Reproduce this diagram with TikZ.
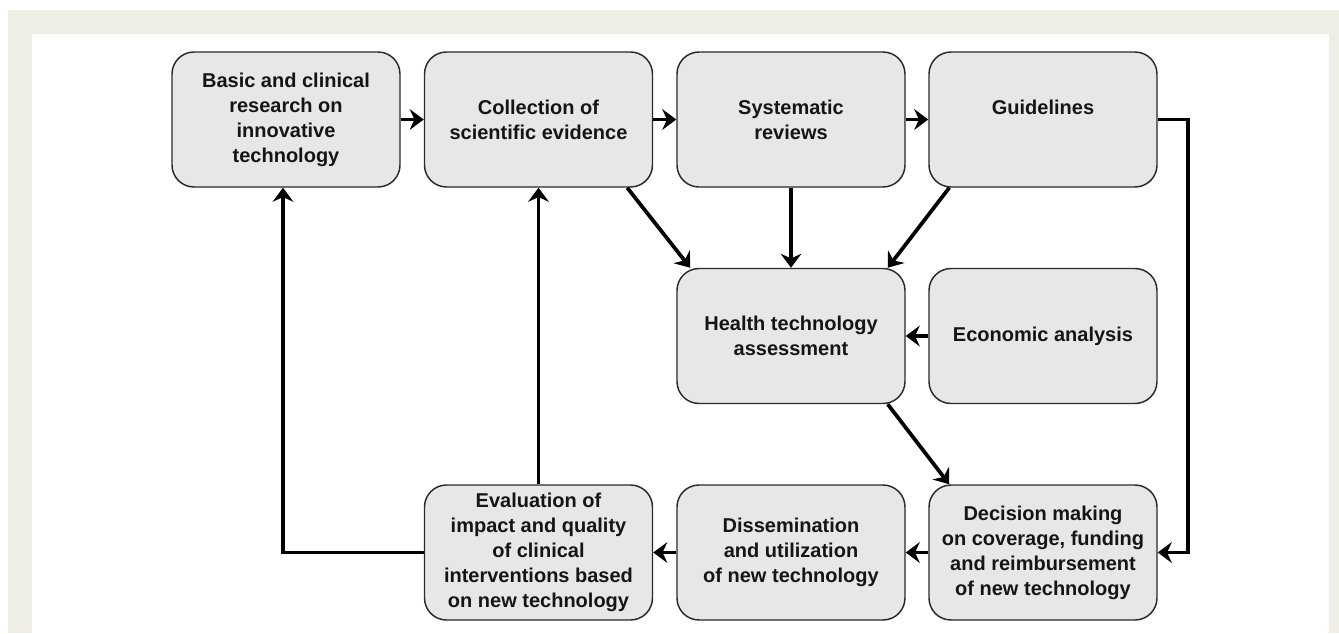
\documentclass[tikz,border=0pt]{standalone}
\usepackage{fontspec}
\setmainfont{Liberation Sans}
\usetikzlibrary{arrows.meta,calc}
\definecolor{beige}{HTML}{EFEEE4}
\definecolor{boxfill}{HTML}{E7E7E7}
\definecolor{boxline}{HTML}{2A2A2A}
\definecolor{txt}{HTML}{151515}
\begin{document}
\begin{tikzpicture}[x=0.75pt,y=-0.75pt,
  box/.style={draw=boxline, line width=1.1pt, fill=boxfill, rounded corners=16.5pt,
    minimum width=171pt, minimum height=101.25pt, inner sep=0pt, align=center,
    text=txt, font=\fontsize{15}{18.75}\selectfont\bfseries},
  arr/.style={line width=2.8pt, draw=black, -{Stealth[length=10.5pt,width=15.5pt,inset=3.5pt]}},
  ln/.style={line width=2.8pt, draw=black}]
\useasboundingbox (0,0) rectangle (1339,633);
\fill[white] (0,0) rectangle (1339,633);
\fill[beige] (8,10) rectangle (1339,633);
\fill[white] (32,34) rectangle (1329,633);
% top row
\node[box] (b1) at (286,119.5) {Basic and clinical\\research on\\innovative\\technology};
\node[box] (b2) at (538.5,119.5) {Collection of\\scientific evidence};
\node[box] (b3) at (791,119.5) {Systematic\\reviews};
\node[box] (b4) at (1043,119.5) {Guidelines\\\mbox{}};
% middle row
\node[box] (hta) at (791,336) {Health technology\\assessment};
\node[box] (eco) at (1043,336) {Economic analysis};
% bottom row
\node[box] (eval) at (538.5,552.5) {Evaluation of\\impact and quality\\of clinical\\interventions based\\on new technology};
\node[box] (dis) at (791,552.5) {Dissemination\\and utilization\\of new technology};
\node[box] (dec) at (1043,552.5) {Decision making\\on coverage, funding\\and reimbursement\\of new technology};
% arrows
\draw[arr] (b1.east) -- (b2.west);
\draw[arr] (b2.east) -- (b3.west);
\draw[arr] (b3.east) -- (b4.west);
\coordinate (gr) at (1188,119.5);
\draw[arr] (b4.east) -- (gr) |- (dec.east);
\draw[arr] ($(b2.south east)+(-26,0)$) -- ($(hta.north west)+(14,0)$);
\draw[arr] (b3.south) -- (hta.north);
\draw[arr] ($(b4.south west)+(21,0)$) -- ($(hta.north east)+(-18,0)$);
\draw[arr] (eco.west) -- (hta.east);
\draw[arr] ($(hta.south east)+(-18,0)$) -- ($(dec.north west)+(21,0)$);
\draw[arr] (dec.west) -- (dis.east);
\draw[arr] (dis.west) -- (eval.east);
\draw[arr] (eval.north) -- (b2.south);
\coordinate (el) at (283,552.5);
\draw[arr] (eval.west) -- (el) -- (b1.south -| el);
\end{tikzpicture}
\end{document}
